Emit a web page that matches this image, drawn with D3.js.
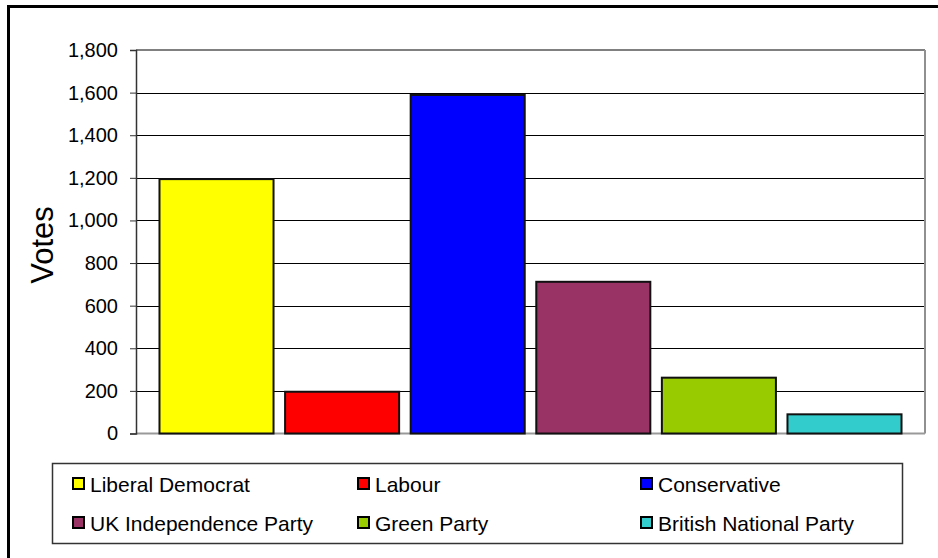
<!DOCTYPE html>
<html>
<head>
<meta charset="utf-8">
<script src="https://cdn.jsdelivr.net/npm/d3@7/dist/d3.min.js"></script>
<style>
  html, body { margin: 0; padding: 0; background: #fff; }
  svg { display: block; font-family: "Liberation Sans", Arial, sans-serif; }
</style>
</head>
<body>
<svg id="chart" width="938" height="558"></svg>
<script>
const parties = ["Liberal Democrat", "Labour", "Conservative", "UK Independence Party", "Green Party", "British National Party"];
const votes = [1194, 196, 1589, 712, 262, 90];
const colors = ["#FFFF00", "#FF0000", "#0000FF", "#993366", "#99CC00", "#33CCCC"];
const yTicks = [0, 200, 400, 600, 800, 1000, 1200, 1400, 1600, 1800];
const yTitle = "Votes";

const svg = d3.select("#chart");
const plot = { left: 136, right: 925, top: 50, bottom: 433.5 };

// outer frame (left/top visible; right/bottom off-canvas)
svg.append("rect")
  .attr("x", 8.5).attr("y", 6.5)
  .attr("width", 940).attr("height", 560)
  .attr("fill", "none").attr("stroke", "#000").attr("stroke-width", 3);

const x = d3.scaleBand()
  .domain(parties)
  .range([plot.left, plot.right])
  .paddingInner(0.092)
  .paddingOuter(0.187);

const y = d3.scaleLinear().domain([0, 1800]).range([plot.bottom, plot.top]);

// gridlines
svg.append("g")
  .selectAll("line")
  .data(yTicks.filter(d => d > 0 && d < 1800))
  .join("line")
  .attr("x1", plot.left).attr("x2", plot.right)
  .attr("y1", d => Math.round(y(d)) + 0.5).attr("y2", d => Math.round(y(d)) + 0.5)
  .attr("stroke", "#000").attr("stroke-width", 1);

// plot border (top, right, bottom gray)
svg.append("line")
  .attr("x1", plot.left).attr("x2", plot.right)
  .attr("y1", y(1800)).attr("y2", y(1800))
  .attr("stroke", "#808080").attr("stroke-width", 2);
svg.append("line")
  .attr("x1", plot.right).attr("x2", plot.right)
  .attr("y1", y(1800)).attr("y2", y(0))
  .attr("stroke", "#909090").attr("stroke-width", 2);
svg.append("line")
  .attr("x1", plot.left).attr("x2", plot.right)
  .attr("y1", y(0)).attr("y2", y(0))
  .attr("stroke", "#999").attr("stroke-width", 2);

// bars
svg.append("g")
  .selectAll("rect")
  .data(parties)
  .join("rect")
  .attr("x", d => x(d))
  .attr("width", x.bandwidth())
  .attr("y", (d, i) => y(votes[i]))
  .attr("height", (d, i) => y(0) - y(votes[i]))
  .attr("fill", (d, i) => colors[i])
  .attr("stroke", "#111").attr("stroke-width", 2);

// y axis
const yAxis = d3.axisLeft(y)
  .tickValues(yTicks)
  .tickSize(6)
  .tickPadding(12)
  .tickFormat(d3.format(","));
const ga = svg.append("g").attr("transform", `translate(${plot.left},0)`).call(yAxis);
ga.select(".domain").attr("stroke", "#333").attr("stroke-width", 1.5);
ga.selectAll(".tick line").attr("stroke", "#333");
ga.selectAll(".tick text")
  .attr("font-size", 20)
  .attr("fill", "#000")
  .attr("font-family", "'Liberation Sans', Arial, sans-serif");

// y title
svg.append("text")
  .attr("transform", `translate(53,245) rotate(-90)`)
  .attr("text-anchor", "middle")
  .attr("font-size", 31)
  .attr("fill", "#000")
  .text(yTitle);

// legend
const legend = { x: 52, y: 463, w: 850, h: 80 };
svg.append("rect")
  .attr("x", legend.x + 0.5).attr("y", legend.y + 0.5)
  .attr("width", legend.w).attr("height", legend.h)
  .attr("fill", "#fff").attr("stroke", "#333").attr("stroke-width", 1.5);

const colX = [72, 357, 640];
const rowY = [484, 523];
const lg = svg.append("g")
  .selectAll("g")
  .data(parties)
  .join("g")
  .attr("transform", (d, i) => `translate(${colX[i % 3]},${rowY[Math.floor(i / 3)]})`);
lg.append("rect")
  .attr("x", 1).attr("y", -6)
  .attr("width", 11).attr("height", 11)
  .attr("fill", (d, i) => colors[i])
  .attr("stroke", "#000").attr("stroke-width", 2);
lg.append("text")
  .attr("x", 18).attr("y", 0)
  .attr("dy", "0.36em")
  .attr("font-size", 21)
  .attr("fill", "#000")
  .text(d => d);
</script>
</body>
</html>
